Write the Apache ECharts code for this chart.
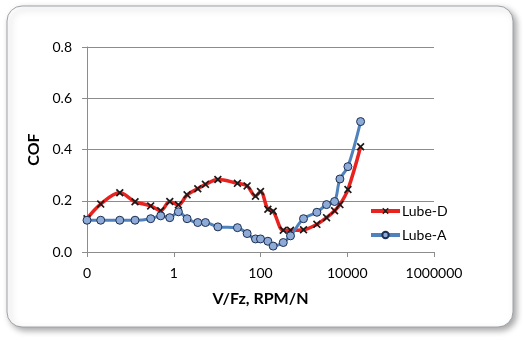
<!DOCTYPE html>
<html>
<head>
<meta charset="utf-8">
<title>COF vs V/Fz</title>
<script src="https://cdn.jsdelivr.net/npm/echarts@6/dist/echarts.min.js"></script>
<style>
  html, body { margin: 0; padding: 0; background: #ffffff; }
  #chart { width: 523px; height: 337px; }
</style>
</head>
<body>
<div id="chart"></div>
<script>
// Speed / load ratio (RPM/N) shared by both lubricants
const speedLoad = [0.01, 0.0207, 0.057, 0.128, 0.294, 0.50, 0.81, 1.28, 2.03, 3.58, 5.38, 10.4,
  29.4, 49.2, 76.7, 100, 148, 196, 335, 492, 981, 1995, 3335, 5100, 6775, 10360, 20300];

// Coefficient of friction
const lubeD = [0.130, 0.187, 0.231, 0.196, 0.180, 0.161, 0.197, 0.184, 0.223, 0.247, 0.264, 0.283,
  0.268, 0.258, 0.218, 0.236, 0.167, 0.159, 0.085, 0.085, 0.087, 0.108, 0.134, 0.161, 0.185, 0.244, 0.411];
const lubeA = [0.124, 0.124, 0.124, 0.124, 0.130, 0.141, 0.134, 0.157, 0.130, 0.115, 0.115, 0.098,
  0.095, 0.072, 0.051, 0.051, 0.042, 0.023, 0.037, 0.063, 0.130, 0.155, 0.185, 0.197, 0.285, 0.333, 0.509];

const seriesNames = ['Lube-D', 'Lube-A'];
const yTicks = { min: 0, max: 0.8, step: 0.2 };
const xRange = { min: 0.01, max: 1000000 };

const pairs = (ys) => speedLoad.map((x, i) => [x, ys[i]]);

// Bold cross marker
const crossPath = 'path://M1.5,0 L5,3.5 L8.5,0 L10,1.5 L6.5,5 L10,8.5 L8.5,10 L5,6.5 L1.5,10 L0,8.5 L3.5,5 L0,1.5 Z';

const font = 'Lato, "Open Sans", sans-serif';
const gridGray = '#8c8c8c';

const chart = echarts.init(document.getElementById('chart'), null, { renderer: 'canvas' });

chart.setOption({
  backgroundColor: '#ffffff',
  animation: false,
  textStyle: { fontFamily: font },
  graphic: [{
    type: 'rect',
    z: -10,
    silent: true,
    shape: { x: 7, y: 6, width: 506, height: 321, r: 15 },
    style: {
      fill: '#ffffff',
      stroke: '#9ea3a8',
      lineWidth: 1,
      shadowBlur: 6,
      shadowOffsetX: 3,
      shadowOffsetY: 3,
      shadowColor: 'rgba(0,0,0,0.35)'
    }
  }],
  grid: { left: 87, right: 89, top: 47, bottom: 85, containLabel: false },
  legend: {
    data: seriesNames,
    orient: 'vertical',
    left: 369,
    top: 204,
    padding: 0,
    itemWidth: 29,
    itemHeight: 8,
    itemGap: 10,
    lineStyle: { width: 4 },
    textStyle: { fontFamily: font, fontSize: 14, color: '#000000', padding: [0, 0, 0, -3] }
  },
  xAxis: {
    type: 'log',
    logBase: 100,
    min: xRange.min,
    max: xRange.max,
    name: 'V/Fz, RPM/N',
    nameLocation: 'middle',
    nameGap: 39,
    nameTextStyle: { fontFamily: font, fontSize: 16, fontWeight: 'bold', color: '#000000' },
    axisLine: { show: true, lineStyle: { color: gridGray, width: 1 } },
    axisTick: { show: true, inside: false, length: 5, lineStyle: { color: gridGray } },
    minorTick: { show: false },
    splitLine: { show: false },
    axisLabel: {
      fontFamily: font,
      fontSize: 14,
      color: '#000000',
      margin: 14,
      formatter: (v) => (v < 1 ? '0' : String(Math.round(v)))
    }
  },
  yAxis: {
    type: 'value',
    min: yTicks.min,
    max: yTicks.max,
    interval: yTicks.step,
    name: 'COF',
    nameLocation: 'middle',
    nameGap: 42,
    nameRotate: 90,
    nameTextStyle: { fontFamily: font, fontSize: 16, fontWeight: 'bold', color: '#000000' },
    axisLine: { show: true, lineStyle: { color: gridGray, width: 1 } },
    axisTick: { show: true, inside: false, length: 5, lineStyle: { color: gridGray } },
    splitLine: { show: true, lineStyle: { color: gridGray, width: 1 } },
    axisLabel: {
      fontFamily: font,
      fontSize: 14,
      color: '#000000',
      margin: 15,
      formatter: (v) => v.toFixed(1)
    }
  },
  series: [
    {
      name: seriesNames[0],
      type: 'line',
      data: pairs(lubeD),
      smooth: 0.35,
      symbol: crossPath,
      symbolSize: 8,
      showAllSymbol: true,
      lineStyle: { color: '#e8231f', width: 3.5 },
      itemStyle: { color: '#1a1a1a', borderWidth: 0 },
      z: 2
    },
    {
      name: seriesNames[1],
      type: 'line',
      data: pairs(lubeA),
      smooth: 0.35,
      symbol: 'circle',
      symbolSize: 8,
      showAllSymbol: true,
      lineStyle: { color: '#4f81bd', width: 3 },
      itemStyle: { color: '#8eaad6', borderColor: '#1c2f52', borderWidth: 1 },
      z: 3
    }
  ]
});
</script>
</body>
</html>
